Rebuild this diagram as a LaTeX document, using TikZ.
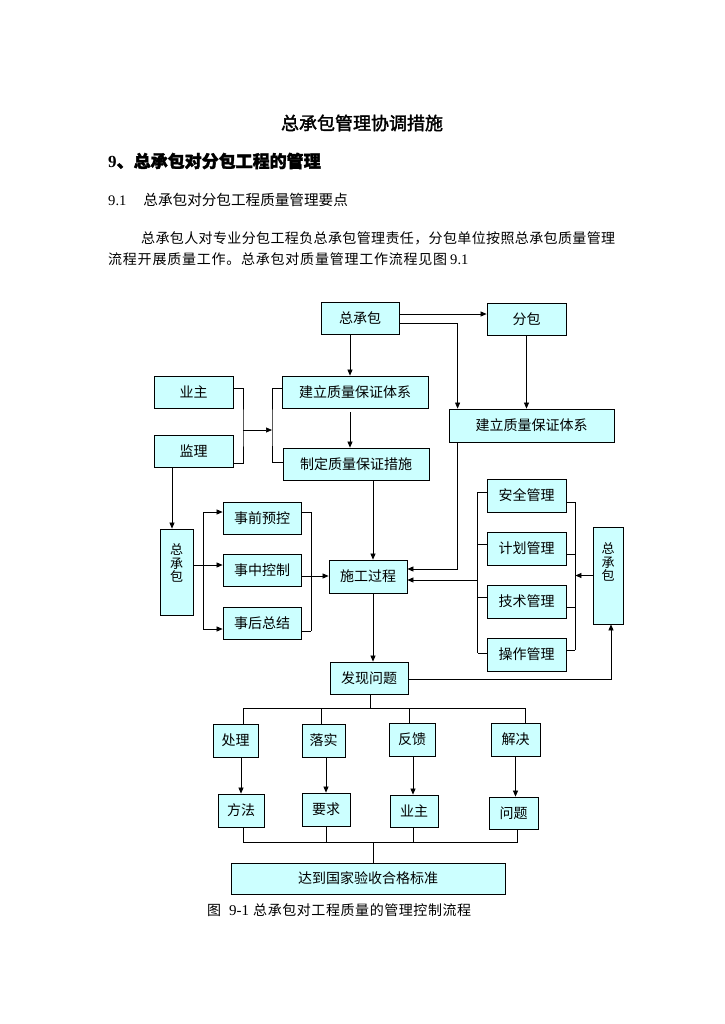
\documentclass[tikz,border=0pt]{standalone}
\usepackage{fontspec}
\setmainfont{Liberation Serif}
\newfontfamily\cjk{Noto Sans CJK SC}
\newfontfamily\cjkb[FakeBold=2]{Noto Sans CJK SC}
\usetikzlibrary{arrows.meta,calc}
\definecolor{boxcyan}{RGB}{204,255,255}
\def\spreadfirst#1{#1\spreadrest}
\def\spreadrest#1{\ifx#1\relax\else\hfil#1\expandafter\spreadrest\fi}
\newcommand\spreadto[2]{\makebox[#1][s]{\spreadfirst#2\relax}}
\begin{document}
\begin{tikzpicture}[x=1pt,y=-1pt,
  box/.style={draw=black,line width=0.8pt,fill=boxcyan,inner sep=0pt,
    font=\cjk\fontsize{14}{16}\selectfont},
  vlab/.style={inner sep=0pt,align=center,font=\cjk\fontsize{13}{13.5}\selectfont},
  arr/.style={-{Triangle[length=6pt,width=5pt]},line width=0.7pt},
  ln/.style={line width=0.7pt}]
\fill[white] (0,0) rectangle (724,1024);
\path[use as bounding box] (0,0) rectangle (724,1024);

% header texts
\node[inner sep=0pt,font=\cjkb\fontsize{18}{20}\selectfont] (title) at (362,123) {总承包管理协调措施};
\node[anchor=west,inner sep=0pt,font=\fontsize{17}{19}\selectfont] (h9) at (108,161) {\bfseries 9\cjkb 、总承包对分包工程的管理};
\node[anchor=west,inner sep=0pt,font=\fontsize{14.6}{16}\selectfont] (h91) at (108,200) {9.1\hspace{17pt}{\cjk\spreadto{202pt}{总承包对分包工程质量管理要点}}};
\node[anchor=west,inner sep=0pt,font=\cjk\fontsize{14}{16}\selectfont] (p1) at (141,238) {\spreadto{474pt}{总承包人对专业分包工程负总承包管理责任，分包单位按照总承包质量管理}};
\node[anchor=west,inner sep=0pt,font=\cjk\fontsize{14}{16}\selectfont] (p2) at (108,259) {\spreadto{339pt}{流程开展质量工作。总承包对质量管理工作流程见图}\hspace{3pt}{\rmfamily\fontsize{14.6}{16}\selectfont 9.1}};

% boxes
\node[box,minimum width=78pt,minimum height=32pt] (zcb) at (360,318) {总承包};
\node[box,minimum width=79pt,minimum height=32pt] (fb) at (526.5,319) {分包};
\node[box,minimum width=79pt,minimum height=32pt] (yz) at (193.5,392) {业主};
\node[box,minimum width=79pt,minimum height=32pt] (jl) at (193.5,451) {监理};
\node[box,minimum width=146pt,minimum height=32pt] (jlL) at (355,392) {建立质量保证体系};
\node[box,minimum width=146pt,minimum height=32pt] (zd) at (356,464) {制定质量保证措施};
\node[box,minimum width=165pt,minimum height=33pt] (jlR) at (531.5,425.5) {建立质量保证体系};
\node[box,minimum width=78pt,minimum height=33pt] (sg) at (368,576.5) {施工过程};
\node[box,minimum width=78pt,minimum height=32pt] (sq) at (262,518) {事前预控};
\node[box,minimum width=78pt,minimum height=32pt] (sz) at (262,570) {事中控制};
\node[box,minimum width=78pt,minimum height=32pt] (sh) at (262,623) {事后总结};
\node[box,minimum width=33pt,minimum height=86pt] (zL) at (176.5,572) {};
\node[vlab] (zLt) at (176.5,563) {总\\承\\包};
\node[box,minimum width=79pt,minimum height=33pt] (aq) at (526.5,495.5) {安全管理};
\node[box,minimum width=79pt,minimum height=33pt] (jh) at (526.5,548.5) {计划管理};
\node[box,minimum width=79pt,minimum height=33pt] (js) at (526.5,601.5) {技术管理};
\node[box,minimum width=79pt,minimum height=33pt] (cz) at (526.5,654.5) {操作管理};
\node[box,minimum width=30pt,minimum height=97pt] (zR) at (608,575.5) {};
\node[vlab] (zRt) at (608,562) {总\\承\\包};
\node[box,minimum width=78pt,minimum height=32pt] (fx) at (369,678) {发现问题};
\node[box,minimum width=45pt,minimum height=33pt] (cl) at (235.5,740.5) {处理};
\node[box,minimum width=43pt,minimum height=33pt] (ls) at (323.5,740.5) {落实};
\node[box,minimum width=46pt,minimum height=33pt] (fk) at (412,739.5) {反馈};
\node[box,minimum width=49pt,minimum height=33pt] (jj) at (515.5,739.5) {解决};
\node[box,minimum width=46pt,minimum height=33pt] (ff) at (241,810.5) {方法};
\node[box,minimum width=48pt,minimum height=33pt] (yq) at (326,809.5) {要求};
\node[box,minimum width=48pt,minimum height=32pt] (yz2) at (414,811) {业主};
\node[box,minimum width=49pt,minimum height=32pt] (wt) at (513.5,813) {问题};
\node[box,minimum width=274pt,minimum height=31pt] (dd) at (368,878.5) {达到国家验收合格标准};

% caption
\node[anchor=west,inner sep=0pt,font=\cjk\fontsize{14}{16}\selectfont] (cap) at (207,910) {图\hspace{8pt}{\rmfamily\fontsize{15}{16}\selectfont 9-1}\hspace{4pt}\spreadto{218pt}{总承包对工程质量的管理控制流程}};

% top connectors
\draw[arr] ([yshift=4pt]zcb.east) -- ([yshift=4pt]zcb.east -| fb.west);
\draw[arr] ([yshift=-5pt]zcb.east) -| ([xshift=9pt]jlR.north west);
\draw[arr] (fb.south) -- (fb.south |- jlR.north);
\coordinate (zcbS) at ([xshift=-10pt]zcb.south);
\draw[arr] (zcbS) -- (zcbS |- jlL.north);
\coordinate (jlLS) at ([xshift=-5pt,yshift=-4pt]jlL.south);
\draw[arr] (jlLS) -- (jlLS |- zd.north);

% owner / supervisor bracket
\coordinate (bA) at (243,430);
\coordinate (bB) at (272,430);
\draw[ln] ([yshift=4pt]yz.east) -| (bA) |- ([yshift=-12pt]jl.east);
\draw[arr] (bA) -- (bB);
\draw[ln] ([yshift=4pt]jlL.west) -| (bB) |- ([yshift=2pt]zd.west);

% into construction process
\coordinate (sgN) at ([xshift=5pt]sg.north);
\draw[arr] (sgN |- zd.south) -- (sgN);
\draw[arr] ([xshift=9pt]jlR.south west) |- ([yshift=7.5pt]sg.east);

% right management group
\draw[ln] ([yshift=3.5pt]aq.west) -- ++(-9,0) coordinate (rtop);
\draw[ln] ([yshift=1.5pt]cz.west) -- ++(-9,0) coordinate (rbot);
\draw[ln] (rtop) -- (rbot);
\draw[ln] ([yshift=4.5pt]jh.west) -- ++(-9,0);
\draw[ln] ([yshift=4.5pt]js.west) -- ++(-9,0);
\coordinate (sgR) at ([yshift=-3.5pt]sg.east);
\draw[arr] (sgR -| rtop) -- (sgR);
\draw[ln] ([yshift=-6.5pt]aq.east) -- ++(9,0) coordinate (qtop);
\draw[ln] ([yshift=4.5pt]cz.east) -- ++(9,0) coordinate (qbot);
\draw[ln] (qtop) -- (qbot);
\draw[ln] ([yshift=-5.5pt]jh.east) -- ++(9,0);
\draw[ln] ([yshift=-5.5pt]js.east) -- ++(9,0);
\draw[arr] (zR.west) -- (zR.west -| qtop);

% left control group
\coordinate (zLn) at ([xshift=-4.5pt]zL.north);
\draw[arr] (zLn |- jl.south) -- (zLn);
\draw[ln] ([yshift=7pt]zL.east) -- ++(10,0) coordinate (lmid);
\coordinate (sqW) at ([yshift=6pt]sq.west);
\coordinate (szW) at ([yshift=5pt]sz.west);
\coordinate (shW) at ([yshift=-6pt]sh.west);
\draw[ln] (sqW -| lmid) -- (shW -| lmid);
\draw[arr] (sqW -| lmid) -- (sqW);
\draw[arr] (szW -| lmid) -- (szW);
\draw[arr] (shW -| lmid) -- (shW);
\draw[ln] ([yshift=6pt]sq.east) -- ++(10,0) coordinate (e1);
\draw[ln] ([yshift=-8pt]sh.east) -- ++(10,0) coordinate (e2);
\draw[ln] (e1) -- (e2);
\coordinate (szE) at ([yshift=-6pt]sz.east);
\draw[arr] (szE) -- (szE -| sg.west);

% process to problem
\coordinate (sgS) at ([xshift=5pt]sg.south);
\draw[arr] (sgS) -- (sgS |- fx.north);
\coordinate (zRs) at ([xshift=3pt]zR.south);
\draw[arr] ([yshift=-1pt]fx.east) -| (zRs);

% branches
\coordinate (fxS) at ([xshift=1pt]fx.south);
\draw[ln] (fxS) -- ++(0,14) coordinate (hb);
\coordinate (t1) at ([xshift=7.5pt]cl.north);
\coordinate (t2) at ([xshift=-2.5pt]ls.north);
\coordinate (t3) at ([xshift=-3pt]fk.north);
\coordinate (t4) at ([xshift=9.5pt]jj.north);
\draw[ln] (t1) -- (t1 |- hb) -- (t4 |- hb) -- (t4);
\draw[ln] (t2) -- (t2 |- hb);
\draw[ln] (t3) -- (t3 |- hb);
\draw[arr] (ff.north |- cl.south) -- (ff.north);
\draw[arr] (yq.north |- ls.south) -- (yq.north);
\coordinate (a3) at ([xshift=1pt]fk.south);
\draw[arr] (a3) -- (a3 |- yz2.north);
\draw[arr] (jj.south) -- (jj.south |- wt.north);

% merge to standard
\coordinate (u1) at ([xshift=2pt]ff.south);
\coordinate (u2) at (yq.south);
\coordinate (u3) at ([xshift=-1pt]yz2.south);
\coordinate (u4) at ([xshift=3.5pt]wt.south);
\coordinate (dN) at ([xshift=5pt]dd.north);
\path (dN) ++(0,-20) coordinate (hb2);
\draw[ln] (u1) -- (u1 |- hb2) -- (u4 |- hb2) -- (u4);
\draw[ln] (u2) -- (u2 |- hb2);
\draw[ln] (u3) -- (u3 |- hb2);
\draw[ln] (hb2) -- (dN);
\end{tikzpicture}
\end{document}
